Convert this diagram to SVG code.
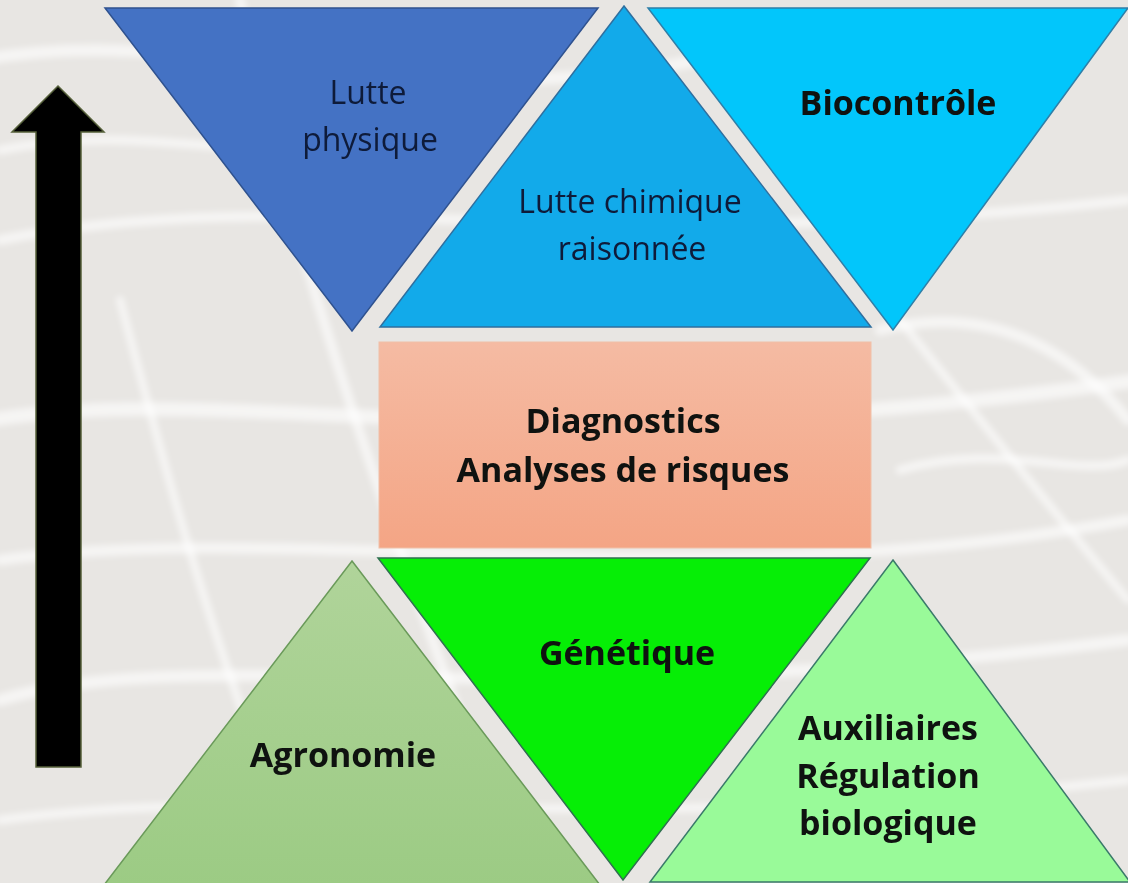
<svg xmlns="http://www.w3.org/2000/svg" width="1128" height="883" viewBox="0 0 1128 883">
<style>
.reg{font-family:"Open Sans","Liberation Sans",sans-serif;font-size:32px;fill:#0e1b3a;text-anchor:middle}
.bold{font-family:"Open Sans","Liberation Sans",sans-serif;font-size:34px;font-weight:bold;fill:#0f1210;text-anchor:middle}
.straw{fill:none;stroke:#ffffff;stroke-linecap:round;opacity:0.6}
</style>
<defs>
<linearGradient id="peach" x1="0" y1="0" x2="0" y2="1">
<stop offset="0" stop-color="#f5bba3"/>
<stop offset="1" stop-color="#f4a585"/>
</linearGradient>
<linearGradient id="agro" x1="0" y1="0" x2="0" y2="1">
<stop offset="0" stop-color="#b0d49a"/>
<stop offset="1" stop-color="#9ccb84"/>
</linearGradient>
<filter id="soft" x="-5%" y="-5%" width="110%" height="110%">
<feGaussianBlur stdDeviation="3"/>
</filter>
</defs>
<rect id="background" x="0" y="0" width="1128" height="883" fill="#e8e6e3"/>
<g id="texture" filter="url(#soft)">
<path class="straw" stroke-width="12" d="M-20 60 C 200 20, 400 120, 700 60"/>
<path class="straw" stroke-width="10" d="M0 240 C 300 180, 600 260, 1128 200"/>
<path class="straw" stroke-width="14" d="M-10 420 C 250 380, 500 470, 1140 380"/>
<path class="straw" stroke-width="11" d="M0 560 C 300 520, 700 600, 1128 520"/>
<path class="straw" stroke-width="12" d="M0 700 C 200 640, 500 720, 1128 640"/>
<path class="straw" stroke-width="9" d="M0 820 C 300 780, 600 840, 1128 780"/>
<path class="straw" stroke-width="10" d="M240 0 C 300 300, 420 600, 520 883"/>
<path class="straw" stroke-width="8" d="M900 320 C 980 420, 1060 520, 1128 600"/>
<path class="straw" stroke-width="11" d="M880 330 C 1000 300, 1080 360, 1128 420"/>
<path class="straw" stroke-width="8" d="M120 300 C 160 450, 200 600, 260 760"/>
<path class="straw" stroke-width="9" d="M0 150 C 150 120, 260 170, 380 140"/>
<path class="straw" stroke-width="9" d="M900 470 C 1000 440, 1080 480, 1128 460"/>
</g>
<g id="arrow">
<polygon points="58,86 104,132 81,132 81,767 36,767 36,132 12,132" fill="#000" stroke="#55603a" stroke-width="1.5"/>
</g>
<g id="lutte-physique">
<polygon points="105,8 598,8 352,331" fill="#4472c4" stroke="#2f528f" stroke-width="1.5"/>
<text class="reg" x="368" y="104">Lutte</text>
<text class="reg" x="370" y="151">physique</text>
</g>
<g id="lutte-chimique">
<polygon points="624,6 871,327 380,327" fill="#12aaea" stroke="#2f6f9f" stroke-width="1.5"/>
<text class="reg" x="630" y="213">Lutte chimique</text>
<text class="reg" x="632" y="260">raisonnée</text>
</g>
<g id="biocontrole">
<polygon points="648,8 1128,8 893,330" fill="#02c6fb" stroke="#2f7fa8" stroke-width="1.5"/>
<text class="bold" x="898" y="115">Biocontrôle</text>
</g>
<g id="diagnostics">
<rect x="379" y="342" width="492" height="206" fill="url(#peach)" stroke="#f0c0a8" stroke-width="1"/>
<text class="bold" x="623" y="433">Diagnostics</text>
<text class="bold" x="623" y="482">Analyses de risques</text>
</g>
<g id="genetique">
<polygon points="378,558 870,558 623,880" fill="#06ee06" stroke="#2f7050" stroke-width="1.5"/>
<text class="bold" x="627" y="665">Génétique</text>
</g>
<g id="agronomie">
<polygon points="352,561 600,885 104,885" fill="url(#agro)" stroke="#6a9a5a" stroke-width="1.5"/>
<text class="bold" x="343" y="767">Agronomie</text>
</g>
<g id="auxiliaires">
<polygon points="893,560 1130,882 650,882" fill="#99fa99" stroke="#3a7a6a" stroke-width="1.5"/>
<text class="bold" x="888" y="740">Auxiliaires</text>
<text class="bold" x="888" y="788">Régulation</text>
<text class="bold" x="888" y="835">biologique</text>
</g>
<g id="connectors"></g>
</svg>
